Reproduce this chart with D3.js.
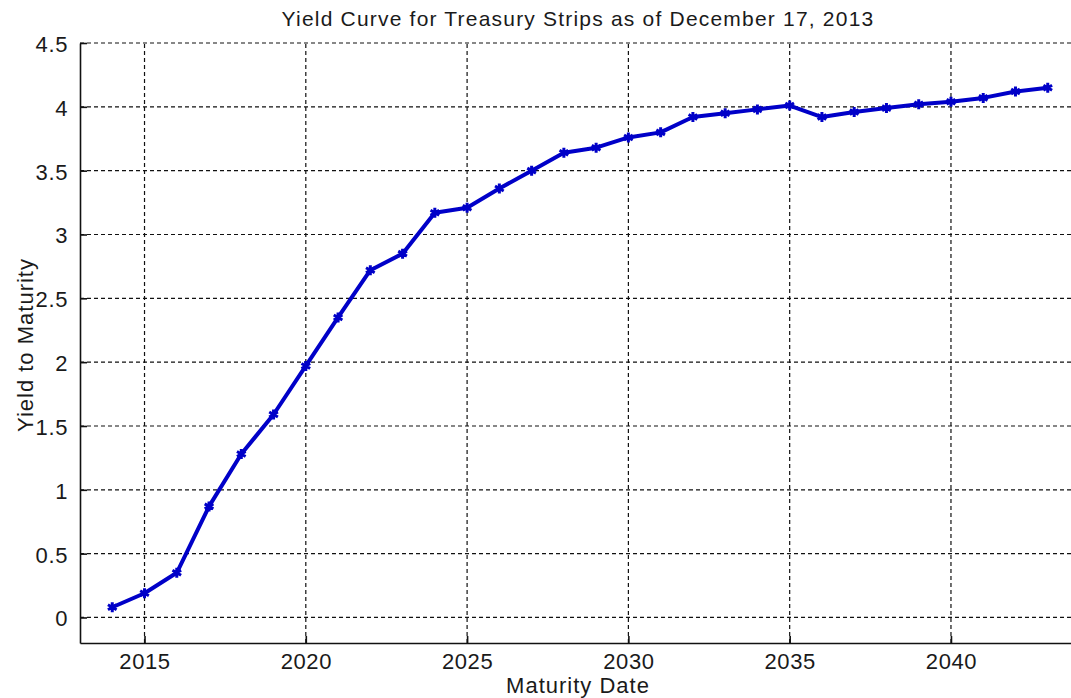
<!DOCTYPE html>
<html>
<head>
<meta charset="utf-8">
<script src="https://cdn.jsdelivr.net/npm/d3@7"></script>
<style>
  body { margin: 0; background: #fff; }
  svg { display: block; font-family: "Liberation Sans", Arial, sans-serif; }
</style>
</head>
<body>
<script>
// maturity years and yields
const years = [2014, 2015, 2016, 2017, 2018, 2019, 2020, 2021, 2022, 2023,
               2024, 2025, 2026, 2027, 2028, 2029, 2030, 2031, 2032, 2033,
               2034, 2035, 2036, 2037, 2038, 2039, 2040, 2041, 2042, 2043];
const yields = [0.08, 0.19, 0.35, 0.87, 1.28, 1.59, 1.97, 2.35, 2.72, 2.85,
                3.17, 3.21, 3.36, 3.50, 3.64, 3.68, 3.76, 3.80, 3.92, 3.95,
                3.98, 4.01, 3.92, 3.96, 3.99, 4.02, 4.04, 4.07, 4.12, 4.15];
const xTicks = [2015, 2020, 2025, 2030, 2035, 2040];
const yTicks = [0, 0.5, 1, 1.5, 2, 2.5, 3, 3.5, 4, 4.5];

function main(){
    const width = 1071, height = 698;
    const left = 80, top = 43, bottom = 643;
    const right = 1080;

    const data = years.map((y, i) => ({year: y, value: yields[i]}));

    const svg = d3.select("body").append("svg")
        .attr("width", width)
        .attr("height", height);

    const xScale = d3.scaleLinear().domain([2013, 2044]).range([left, right]);
    const yScale = d3.scaleLinear().domain([-0.2, 4.5]).range([bottom, top]);

    // grid
    svg.append("g")
        .selectAll("line")
        .data(yTicks)
        .enter().append("line")
        .attr("x1", left).attr("x2", right)
        .attr("y1", d => yScale(d)).attr("y2", d => yScale(d))
        .attr("stroke", "#111")
        .attr("stroke-width", 1.2)
        .attr("stroke-dasharray", "4,3");

    svg.append("g")
        .selectAll("line")
        .data(xTicks)
        .enter().append("line")
        .attr("x1", d => xScale(d)).attr("x2", d => xScale(d))
        .attr("y1", bottom).attr("y2", top)
        .attr("stroke", "#111")
        .attr("stroke-width", 1.2)
        .attr("stroke-dasharray", "4,3");

    // axes, MATLAB style ticks pointing inward
    const xAxis = svg.append("g")
        .attr("transform", "translate(0," + bottom + ")")
        .call(d3.axisBottom(xScale).tickValues(xTicks).tickFormat(d3.format("d"))
              .tickSizeInner(-7).tickSizeOuter(0).tickPadding(10));
    const yAxis = svg.append("g")
        .attr("transform", "translate(" + left + ",0)")
        .call(d3.axisLeft(yScale).tickValues(yTicks).tickFormat(d => d)
              .tickSizeInner(-7).tickSizeOuter(0).tickPadding(12));

    [xAxis, yAxis].forEach(a => {
        a.select(".domain").attr("stroke", "#111").attr("stroke-width", 1.6);
        a.selectAll(".tick line").attr("stroke", "#111").attr("stroke-width", 1.6);
        a.selectAll(".tick text")
            .attr("fill", "#1a1a1a")
            .style("font-size", "22px")
            .style("letter-spacing", "0.6px")
            .style("font-family", "'Liberation Sans', Arial, sans-serif");
    });
    yAxis.selectAll(".tick text").attr("dy", "0.38em");

    // curve
    const line = d3.line()
        .x(d => xScale(d.year))
        .y(d => yScale(d.value));

    svg.append("path")
        .datum(data)
        .attr("fill", "none")
        .attr("stroke", "#0000c8")
        .attr("stroke-width", 4)
        .attr("stroke-linejoin", "round")
        .attr("d", line);

    const symType = d3.symbolAsterisk || d3.symbolCross;
    svg.append("g")
        .selectAll("path")
        .data(data)
        .enter().append("path")
        .attr("transform", d => "translate(" + xScale(d.year) + "," + yScale(d.value) + ")")
        .attr("d", d3.symbol().type(symType).size(70))
        .attr("fill", "#0000c8")
        .attr("stroke", "#0000c8")
        .attr("stroke-width", 3);

    // labels
    svg.append("text")
        .attr("x", 578).attr("y", 26)
        .attr("text-anchor", "middle")
        .attr("fill", "#1a1a1a")
        .style("font-size", "21px")
        .style("letter-spacing", "1.2px")
        .text("Yield Curve for Treasury Strips as of December 17, 2013");

    svg.append("text")
        .attr("x", 578).attr("y", 693)
        .attr("text-anchor", "middle")
        .attr("fill", "#1a1a1a")
        .style("font-size", "22px")
        .style("letter-spacing", "1px")
        .text("Maturity Date");

    svg.append("text")
        .attr("transform", "translate(33,345) rotate(-90)")
        .attr("text-anchor", "middle")
        .attr("fill", "#1a1a1a")
        .style("font-size", "22px")
        .style("letter-spacing", "1px")
        .text("Yield to Maturity");
}
main();
</script>
</body>
</html>
